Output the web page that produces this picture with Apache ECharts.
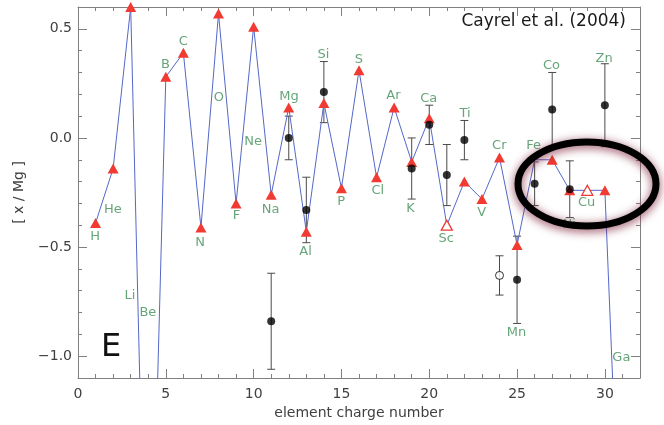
<!DOCTYPE html>
<html>
<head>
<meta charset="utf-8">
<script src="https://cdn.jsdelivr.net/npm/echarts@6/dist/echarts.min.js"></script>
<style>html,body{margin:0;padding:0;background:#fff;}#c{width:664px;height:425px;}</style>
</head>
<body>
<div id="c"></div>
<script>
// Theoretical model (red triangles + blue line), Z = 1..31
const modelZ   = [1,2,3,4,5,6,7,8,9,10,11,12,13,14,15,16,17,18,19,20,21,22,23,24,25,26,27,28,29,30,31];
const modelVal = [-0.39,-0.14,0.60,-2.7,0.28,0.39,-0.41,0.57,-0.30,0.51,-0.26,0.14,-0.43,0.16,-0.23,0.31,-0.18,0.14,-0.11,0.09,-0.40,-0.20,-0.28,-0.09,-0.49,-0.10,-0.10,-0.24,-0.24,-0.24,-2.2];
const modelOpenZ = [21,29];   // open triangles (Sc, Cu)
const modelNoMarkZ = [26];    // Fe: vertex without marker

// Observations (Cayrel et al. 2004): black dots with error bars
const obsZ   = [11,12,13,14,19,20,21,22,24,25,26,27,28,30];
const obsVal = [-0.84,0.00,-0.33,0.21,-0.14,0.06,-0.17,-0.01,-0.63,-0.65,-0.21,0.13,-0.235,0.15];
const obsErr = [0.22,0.10,0.15,0.14,0.14,0.09,0.14,0.09,0.09,0.20,0.10,0.17,0.13,0.19];
const obsOpenZ = [24];

// Element labels
const labelNames = ['H','He','Li','Be','B','C','N','O','F','Ne','Na','Mg','Al','Si','P','S','Cl','Ar','K','Ca','Sc','Ti','V','Cr','Mn','Fe','Co','Ni','Cu','Zn','Ga'];
const labelX = [0.97,1.99,2.96,3.98,4.98,5.99,6.95,8.02,9.02,9.97,10.97,12.01,12.96,13.98,14.99,15.99,17.07,17.96,18.93,19.97,20.96,22.04,22.99,23.99,24.97,25.94,26.96,27.97,28.96,29.96,30.94];
const labelY = [-0.454,-0.33,-0.722,-0.80,0.337,0.44,-0.48,0.185,-0.355,-0.018,-0.33,0.188,-0.523,0.384,-0.294,0.36,-0.243,0.196,-0.324,0.178,-0.46,0.112,-0.342,-0.033,-0.893,-0.033,0.33,-0.396,-0.296,0.364,-1.005];

// Axis ticks
const xMajor = 5, xMinor = 1;
const yMajorTicks = [-1.0,-0.5,0.0,0.5];
const yMinor = 0.1;

const FONT = 'DejaVu Sans';
const RED = '#f03a32';
const GREEN = '#3f8f57';
const AXIS = '#808080';

const modelData = modelZ.map((z,i)=>{
  const d = {value:[z, modelVal[i]]};
  if (modelOpenZ.includes(z)) d.itemStyle = {color:'#ffffff', borderColor:RED, borderWidth:1.3};
  if (modelNoMarkZ.includes(z)) d.symbol = 'none';
  return d;
});
const obsData = obsZ.map((z,i)=>{
  const d = {value:[z, obsVal[i]]};
  if (obsOpenZ.includes(z)) d.itemStyle = {color:'#ffffff', borderColor:'#000', borderWidth:1};
  return d;
});
const errData = obsZ.map((z,i)=>[z, obsVal[i], obsErr[i]]);
const labelData = labelNames.map((n,i)=>({name:n, value:[labelX[i], labelY[i]]}));

const fmt = v => (Math.abs(v)<1e-9 ? '0.0' : v.toFixed(1).replace('-', '\u2212'));

const commonX = {type:'value', min:0, max:32, splitLine:{show:false}};
const commonY = {type:'value', min:-1.1, max:0.6, splitLine:{show:false}};
const lineOn = {show:true, onZero:false, lineStyle:{color:AXIS, width:1}};
const lineOff = {show:false, onZero:false};

const option = {
  animation:false,
  backgroundColor:'#fff',
  grid:{left:78, right:24, top:7, bottom:47, containLabel:false},
  xAxis:[
    Object.assign({}, commonX, {position:'bottom', interval:xMajor,
      axisLine:lineOn,
      axisTick:{show:true, inside:true, length:9, lineStyle:{color:AXIS}},
      axisLabel:{show:true, margin:9, color:'#404040', fontSize:14, fontFamily:FONT, showMaxLabel:false},
      name:'element charge number', nameLocation:'middle', nameGap:27,
      nameTextStyle:{color:'#404040', fontSize:14, fontFamily:FONT}}),
    Object.assign({}, commonX, {position:'bottom', interval:xMinor,
      axisLine:lineOff, axisTick:{show:true, inside:true, length:4, lineStyle:{color:AXIS}}, axisLabel:{show:false}}),
    Object.assign({}, commonX, {position:'top', interval:xMajor,
      axisLine:lineOn, axisTick:{show:true, inside:true, length:9, lineStyle:{color:AXIS}}, axisLabel:{show:false}}),
    Object.assign({}, commonX, {position:'top', interval:xMinor,
      axisLine:lineOff, axisTick:{show:true, inside:true, length:4, lineStyle:{color:AXIS}}, axisLabel:{show:false}})
  ],
  yAxis:[
    Object.assign({}, commonY, {position:'left',
      axisLine:lineOn,
      axisTick:{show:true, inside:true, length:9, lineStyle:{color:AXIS}, customValues:yMajorTicks},
      axisLabel:{show:true, margin:6, color:'#404040', fontSize:14, fontFamily:FONT, customValues:yMajorTicks, formatter:fmt},
      name:'[ x / Mg ]', nameLocation:'middle', nameGap:52,
      nameTextStyle:{color:'#404040', fontSize:14, fontFamily:FONT}}),
    Object.assign({}, commonY, {position:'left', interval:yMinor,
      axisLine:lineOff, axisTick:{show:true, inside:true, length:4, lineStyle:{color:AXIS}}, axisLabel:{show:false}}),
    Object.assign({}, commonY, {position:'right',
      axisLine:lineOn,
      axisTick:{show:true, inside:true, length:9, lineStyle:{color:AXIS}, customValues:yMajorTicks},
      axisLabel:{show:false}}),
    Object.assign({}, commonY, {position:'right', interval:yMinor,
      axisLine:lineOff, axisTick:{show:true, inside:true, length:4, lineStyle:{color:AXIS}}, axisLabel:{show:false}})
  ],
  series:[
    {
      type:'custom', name:'errors', xAxisIndex:0, yAxisIndex:0,
      data:errData, encode:{x:0, y:1}, z:2,
      renderItem:function(params, api){
        const x = api.value(0), y = api.value(1), e = api.value(2);
        const t = api.coord([x, y+e]), b = api.coord([x, y-e]);
        const w = 4;
        const st = {stroke:'#4a4a4a', lineWidth:1};
        return {type:'group', children:[
          {type:'line', shape:{x1:t[0], y1:t[1], x2:b[0], y2:b[1]}, style:st},
          {type:'line', shape:{x1:t[0]-w, y1:t[1], x2:t[0]+w, y2:t[1]}, style:st},
          {type:'line', shape:{x1:b[0]-w, y1:b[1], x2:b[0]+w, y2:b[1]}, style:st}
        ]};
      }
    },
    {
      type:'line', name:'model', xAxisIndex:0, yAxisIndex:0, data:modelData, z:3,
      clip:true, symbol:'triangle', symbolSize:[11,10], showAllSymbol:true,
      lineStyle:{color:'#5468c8', width:1},
      itemStyle:{color:RED}
    },
    {
      type:'scatter', name:'obs', xAxisIndex:0, yAxisIndex:0, data:obsData, z:4,
      symbol:'circle', symbolSize:8, itemStyle:{color:'#000'}
    },
    {
      type:'scatter', name:'labels', xAxisIndex:0, yAxisIndex:0, data:labelData, z:5,
      symbolSize:0, silent:true,
      label:{show:true, position:'inside', formatter:'{b}', color:GREEN, fontSize:13, fontFamily:FONT}
    }
  ],
  graphic:[
    {type:'text', right:38, top:13, z:10,
      style:{text:'Cayrel et al. (2004)', fill:'#1a1a1a', fontSize:17, fontFamily:FONT}},
    {type:'text', left:101, top:332, z:10,
      style:{text:'E', fill:'#111', fontSize:32, fontFamily:FONT}},
    {type:'ellipse', z:20,
      shape:{cx:587, cy:184, rx:69, ry:42},
      style:{fill:'none', stroke:'#000', lineWidth:7, shadowBlur:10, shadowColor:'rgba(125,30,55,0.85)', shadowOffsetX:0, shadowOffsetY:2}}
  ]
};

const chart = echarts.init(document.getElementById('c'), null, {renderer:'canvas'});
chart.setOption(option);
</script>
</body>
</html>
